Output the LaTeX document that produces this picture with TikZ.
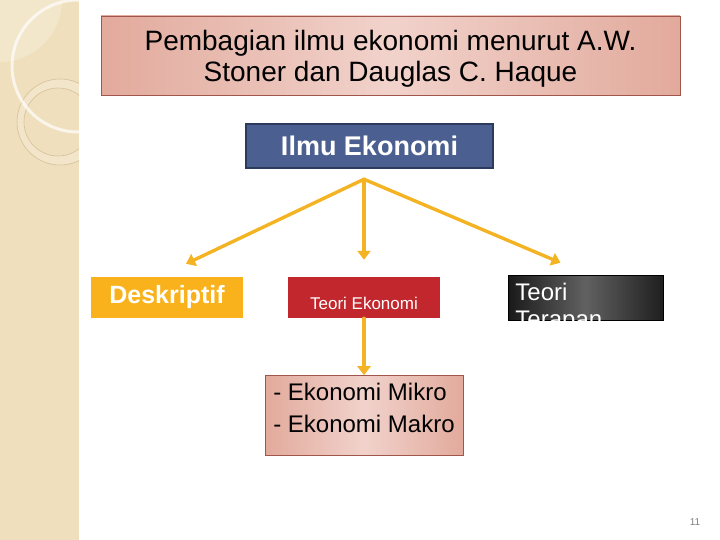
\documentclass[tikz,border=0pt]{standalone}
\usepackage{fontspec}
\setmainfont{Liberation Sans}
\usetikzlibrary{arrows.meta, positioning, calc}
\definecolor{stripbeige}{HTML}{EFDFBD}
\definecolor{stripline}{HTML}{D6C097}
\definecolor{pinkedge}{HTML}{E2AA9C}
\definecolor{pinkmid}{HTML}{F1D2CB}
\definecolor{pinkborder}{HTML}{A0564A}
\definecolor{ilmublue}{HTML}{4B5F91}
\definecolor{ilmuborder}{HTML}{2C3A5E}
\definecolor{deskyellow}{HTML}{F9B21B}
\definecolor{teorired}{HTML}{C1272D}
\definecolor{arrowgold}{HTML}{F4B323}

\begin{document}
\begin{tikzpicture}[x=1pt, y=-1pt,
  pinkbox/.style={draw=pinkborder, line width=0.8pt, left color=pinkedge, right color=pinkedge, middle color=pinkmid, inner sep=0pt},
  flatbox/.style={inner sep=0pt, text=white, minimum width=152pt, minimum height=41pt},
  darkbox/.style={draw=black, line width=0.5pt, left color=black!90, right color=black!88, middle color=black!62},
  arr/.style={-{Triangle[length=9pt,width=13pt]}, arrowgold, line width=3.4pt, line cap=round},
]
\useasboundingbox (0,0) rectangle (720,540);
% side strip with circles
\fill[stripbeige] (0,0) rectangle (79,540);
\begin{scope}
  \clip (0,0) rectangle (79,540);
  \fill[white, opacity=0.22] (0,0) circle (62pt);
  \fill[white, opacity=0.2, even odd rule] (60,122) circle (43pt) (58,122) circle (34pt);
  \draw[stripline, line width=0.6pt] (60,122) circle (43pt);
  \draw[stripline, line width=0.6pt] (58,122) circle (34pt);
  \draw[white, opacity=0.7, line width=3pt] (78,66) circle (66pt);
\end{scope}

% title
\node[pinkbox, minimum width=579pt, minimum height=79pt, align=center,
  font=\fontsize{28}{31}\selectfont, text depth=0pt] (title) at (390.5,55.5)
  {Pembagian ilmu ekonomi menurut A.W.\\Stoner dan Dauglas C. Haque};

% root
\node[draw=ilmuborder, line width=2.5pt, fill=ilmublue, text=white,
  minimum width=247pt, minimum height=44pt,
  font=\bfseries\fontsize{27}{30}\selectfont] (ilmu) at (369.5,146) {Ilmu Ekonomi};

% three branches
\node[flatbox, fill=deskyellow, font=\bfseries\fontsize{25}{28}\selectfont] (deskriptif) at (167,297.5) {Deskriptif};
\node[flatbox, fill=teorired, font=\fontsize{17}{20}\selectfont, text height=23pt, text depth=0pt] (teori) at (364,297.5) {Teori Ekonomi};
\node[darkbox, minimum width=155pt, minimum height=45pt] (terapan) at (585.5,297.5) {};
\begin{scope}
  \clip (terapan.south west) rectangle (terapan.north east);
  \node[text=white, align=left, anchor=north west, inner sep=0pt,
    font=\fontsize{24}{27}\selectfont] (terapanlbl) at ([xshift=7.5pt,yshift=-8pt]terapan.north west) {Teori\\Terapan};
\end{scope}

% micro / macro
\node[pinkbox, minimum width=198pt, minimum height=80pt, align=left,
  font=\fontsize{24}{32}\selectfont, text depth=15pt, below=57pt of teori] (makro) {- Ekonomi Mikro\\- Ekonomi Makro};

% arrows
\coordinate (split) at ($(ilmu.south)+(-5.5,10)$);
\draw[arr] (split) -- ($(deskriptif.north)+(19,-13)$);
\draw[arr] (split) -- ($(teori.north)+(0,-17)$);
\draw[arr] (split) -- ($(terapan.north)+(-25,-12)$);
\draw[arr] (teori) -- (makro);

\node[text=gray, font=\fontsize{10}{12}\selectfont] (pagenum) at (695,522) {11};
\end{tikzpicture}
\end{document}
